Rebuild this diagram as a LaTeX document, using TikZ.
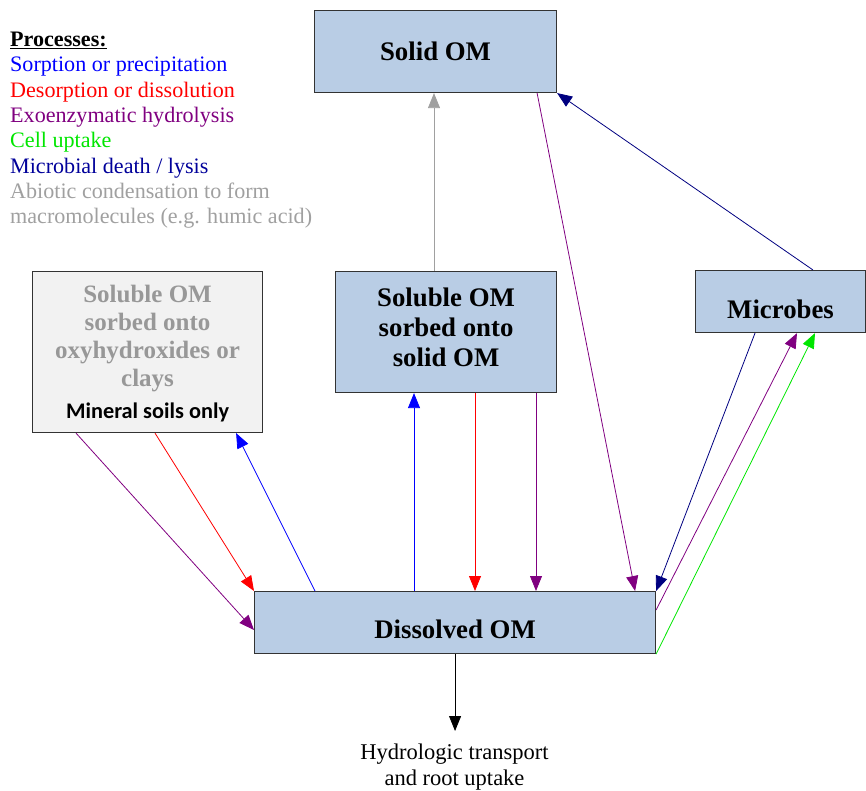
\documentclass[tikz,border=0pt]{standalone}
\usepackage{fontspec}
\setmainfont{LiberationSerif}[Extension=.ttf,UprightFont=*-Regular,BoldFont=*-Bold,ItalicFont=*-Italic,BoldItalicFont=*-BoldItalic]
\newfontfamily\calib{Carlito}
\usetikzlibrary{arrows.meta}
\definecolor{boxblue}{RGB}{185,205,229}
\definecolor{boxgray}{RGB}{242,242,242}
\definecolor{sorbcol}{RGB}{0,0,255}
\definecolor{desorbcol}{RGB}{255,0,0}
\definecolor{hydrocol}{RGB}{128,0,128}
\definecolor{uptakecol}{RGB}{0,230,0}
\definecolor{lysiscol}{RGB}{0,0,128}
\definecolor{abiocol}{RGB}{160,160,160}
\begin{document}
\begin{tikzpicture}[x=1pt,y=-1pt,
  box/.style={draw=black!80,line width=1.1pt,fill=boxblue,anchor=north west,
    inner sep=0pt,align=center,font=\fontsize{26.8}{30}\selectfont\bfseries},
  flow/.style={line width=0.8pt,-{Triangle[length=15pt,width=12pt]}}]
\useasboundingbox (0,0) rectangle (866,791);

% Legend of the processes
\node[anchor=north west,inner sep=0pt,align=left,font=\fontsize{22.1}{25.3}\selectfont] (legend) at (10,32)
  {\underline{\textbf{Processes:}}\\
   \textcolor{sorbcol}{Sorption or precipitation}\\
   \textcolor{desorbcol}{Desorption or dissolution}\\
   \textcolor{hydrocol}{Exoenzymatic hydrolysis}\\
   \textcolor{uptakecol}{Cell uptake}\\
   \textcolor{lysiscol!80!blue}{Microbial death / lysis}\\
   \textcolor{abiocol}{Abiotic condensation to form}\\
   \textcolor{abiocol}{macromolecules (e.g. humic acid)}};

% The pools of organic matter
\node[box,minimum width=242pt,minimum height=82pt] (solid) at (314,10) {Solid OM};
\node[box,minimum width=221pt,minimum height=121pt,text depth=10pt] (sorb) at (335,271)
  {Soluble OM\\sorbed onto\\solid OM};
\node[box,minimum width=170pt,minimum height=62pt,text height=34pt] (mic) at (695,270) {Microbes};
\node[box,fill=boxgray,text=abiocol!95!black,minimum width=230pt,minimum height=161pt,
  text depth=-4pt,font=\fontsize{25}{28}\selectfont\bfseries] (mineral) at (32,271)
  {Soluble OM\\sorbed onto\\oxyhydroxides or\\clays\\[4pt]
   {\color{black}\calib\fontsize{22.3}{24}\selectfont\bfseries Mineral soils only}};
\node[box,minimum width=401pt,minimum height=62pt,text height=33pt] (dom) at (254,591) {Dissolved OM};
\node[anchor=north,inner xsep=0pt,inner ysep=13pt,align=center,font=\fontsize{22.5}{26}\selectfont] (out) at (454.5,731)
  {Hydrologic transport\\and root uptake};

% Solid OM and the sorbed pool
\draw[flow,abiocol] ([xshift=99pt]sorb.north west) -- ([xshift=120pt]solid.south west);
\draw[flow,lysiscol] ([xshift=118pt]mic.north west) -- (solid.south east);
\draw[flow,hydrocol] ([xshift=-20pt]solid.south east) -- ([xshift=-21pt]dom.north east);

% Mineral soils
\draw[flow,hydrocol] ([xshift=44pt]mineral.south west) -- ([yshift=-39pt]dom.north west);
\draw[flow,desorbcol] ([xshift=123pt]mineral.south west) -- (dom.north west);
\draw[flow,sorbcol] ([xshift=61pt]dom.north west) -- ([xshift=-27pt]mineral.south east);

% Sorbed onto solid OM
\draw[flow,sorbcol] ([xshift=160pt]dom.north west) -- ([xshift=79pt]sorb.south west);
\draw[flow,desorbcol] ([xshift=140pt]sorb.south west) -- ([xshift=221pt]dom.north west);
\draw[flow,hydrocol] ([xshift=201pt]sorb.south west) -- ([xshift=282pt]dom.north west);

% Microbes
\draw[flow,lysiscol] ([xshift=60pt]mic.south west) -- (dom.north east);
\draw[flow,hydrocol] ([yshift=-19pt]dom.north east) -- ([xshift=102pt]mic.south west);
\draw[flow,uptakecol] (dom.south east) -- ([xshift=120pt]mic.south west);

% Leaving the soil
\draw[flow,black] (dom.south) -- (dom.south |- out.north);
\end{tikzpicture}
\end{document}
